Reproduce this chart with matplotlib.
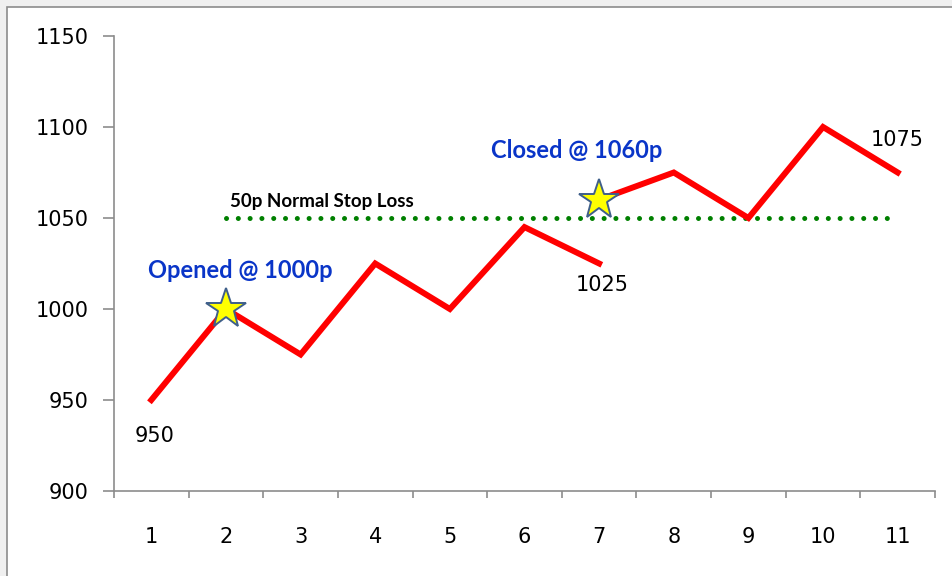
import matplotlib.pyplot as plt
import matplotlib.patches as mpatches
import numpy as np

plt.rcParams['font.family'] = ['DejaVu Sans']

days = [1, 2, 3, 4, 5, 6, 7, 8, 9, 10, 11]
price_open = [950, 1000, 975, 1025, 1000, 1045, 1025, np.nan, np.nan, np.nan, np.nan]
price_after = [np.nan, np.nan, np.nan, np.nan, np.nan, np.nan, 1060, 1075, 1050, 1100, 1075]
stop_level = 1050
stop_span = [2, 10.9]
trade_days = [2, 7]
trade_prices = [1000, 1060]
yticks = [900, 950, 1000, 1050, 1100, 1150]

fig = plt.figure(figsize=(9.52, 5.76), dpi=100)
fig.patch.set_facecolor('#f0f0f0')
# white chart area with grey border (cut at right/bottom)
fig.patches.append(mpatches.Rectangle((6.5 / 952, -0.05), 1.1, 1.05 - 6.5 / 576,
                                      transform=fig.transFigure, facecolor='white',
                                      edgecolor='#8c8c8c', linewidth=1.2, zorder=-1))

ax = fig.add_axes([114 / 952, 1 - 491 / 576, (935 - 114) / 952, (491 - 36) / 576])
ax.set_facecolor('none')

ax.plot(days, price_open, color='#ff0000', lw=4.3, solid_joinstyle='miter', zorder=3)
ax.plot(days, price_after, color='#ff0000', lw=4.3, solid_joinstyle='miter', zorder=3)
ax.plot(stop_span, [stop_level, stop_level], color='#008000', lw=3.6,
        linestyle=(0, (0.01, 2.35)), dash_capstyle='round', zorder=2)
ax.plot(trade_days, trade_prices, linestyle='none', marker='*', markersize=30,
        markerfacecolor='#ffff00', markeredgecolor='#3f5f8a', markeredgewidth=1.4, zorder=4)

ax.text(1.05, 930, '950', fontsize=15, ha='center', va='center')
ax.text(7.04, 1013, '1025', fontsize=15, ha='center', va='center')
ax.text(11.0, 1093, '1075', fontsize=15, ha='center', va='center')
ax.text(2.19, 1021, 'Opened @ 1000p', fontsize=17, fontweight='bold', color='#0a35c8',
        family='Lato', ha='center', va='center')
ax.text(6.7, 1087, 'Closed @ 1060p', fontsize=17, fontweight='bold', color='#0a35c8',
        family='Lato', ha='center', va='center')
ax.text(3.28, 1059, '50p Normal Stop Loss', fontsize=13.5, fontweight='bold',
        family='Lato', ha='center', va='center')

ax.set_xlim(0.5, 11.5)
ax.set_ylim(900, 1150)
ax.set_yticks(yticks)
ax.set_xticks(days)
ax.set_xticks(np.arange(0.5, 12, 1), minor=True)
ax.tick_params(axis='x', which='major', length=0, pad=26, labelsize=15)
ax.tick_params(axis='x', which='minor', length=5, color='#8c8c8c', width=1.2)
ax.tick_params(axis='y', length=8, color='#8c8c8c', width=1.2, pad=10, labelsize=15)
for side in ['top', 'right']:
    ax.spines[side].set_visible(False)
for side in ['left', 'bottom']:
    ax.spines[side].set_color('#8c8c8c')
    ax.spines[side].set_linewidth(1.2)

plt.savefig('out.png', dpi=100, facecolor=fig.get_facecolor())
